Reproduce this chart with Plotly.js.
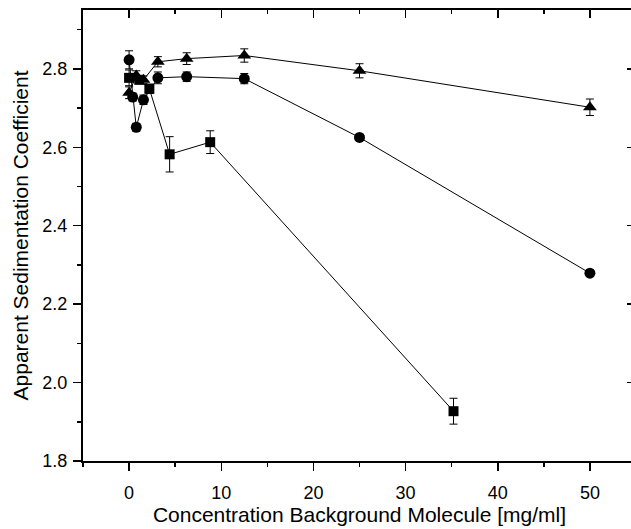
<!DOCTYPE html>
<html>
<head>
<meta charset="utf-8">
<script src="https://cdn.plot.ly/plotly-3.0.1.min.js"></script>
<style>
  html, body { margin: 0; padding: 0; overflow: hidden; background: #fff; }
  #chart { width: 640px; height: 529px; }
</style>
</head>
<body>
<div id="chart"></div>
<script>
// Concentration of background molecule [mg/ml]
const circleX = [0, 0.39, 0.78, 1.56, 3.125, 6.25, 12.5, 25, 50];
const circleY = [2.823, 2.728, 2.651, 2.721, 2.777, 2.780, 2.775, 2.625, 2.279];
const circleErr = [0.023, 0.010, 0.010, 0.012, 0.015, 0.012, 0.013, 0.008, 0.008];

const triX = [0, 0.78, 1.56, 3.125, 6.25, 12.5, 25, 50];
const triY = [2.739, 2.783, 2.772, 2.818, 2.826, 2.834, 2.795, 2.702];
const triErr = [0.015, 0.012, 0.010, 0.013, 0.015, 0.017, 0.018, 0.021];

const sqX = [0, 1.1, 2.2, 4.4, 8.8, 35.2];
const sqY = [2.777, 2.772, 2.749, 2.582, 2.613, 1.927];
const sqErr = [0.020, 0.010, 0.012, 0.045, 0.029, 0.033];

const FONT = 'Liberation Sans, Arial, sans-serif';

function series(x, y, err, symbol, size) {
  return {
    type: 'scatter', mode: 'lines+markers', x: x, y: y,
    line: { color: '#000', width: 1 },
    marker: { symbol: symbol, size: size, color: '#000' },
    error_y: { type: 'data', array: err, visible: true, color: '#000', thickness: 1, width: 4 },
    showlegend: false, hoverinfo: 'x+y'
  };
}

const traces = [
  series(sqX, sqY, sqErr, 'square', 10),
  series(circleX, circleY, circleErr, 'circle', 11),
  series(triX, triY, triErr, 'triangle-up', 12),
  // empty trace that anchors the top/right frame axes
  { type: 'scatter', x: [], y: [], xaxis: 'x2', yaxis: 'y2', showlegend: false, hoverinfo: 'skip' }
];

const xr = [-5, 55];
const yr = [1.8, 2.95];

const layout = {
  width: 640, height: 529,
  margin: { l: 83, r: 4, t: 10, b: 68 },
  paper_bgcolor: '#fff', plot_bgcolor: '#fff',
  font: { family: FONT, color: '#000', size: 18 },
  showlegend: false,
  xaxis: {
    range: xr, tick0: 0, dtick: 10, ticks: 'outside', ticklen: 8, tickwidth: 1.5, tickcolor: '#000',
    minor: { dtick: 5, ticks: 'outside', ticklen: 4, tickwidth: 1.5, tickcolor: '#000' },
    showline: true, linewidth: 2, linecolor: '#000', showgrid: false, zeroline: false,
    tickfont: { size: 18, family: FONT }, ticklabelstandoff: 6,
    title: { text: 'Concentration Background Molecule [mg/ml]', font: { size: 21, family: FONT }, standoff: 3 }
  },
  yaxis: {
    range: yr, tick0: 1.8, dtick: 0.2, tickformat: '.1f', ticks: 'outside', ticklen: 8, tickwidth: 1.5, tickcolor: '#000',
    minor: { dtick: 0.1, ticks: 'outside', ticklen: 4, tickwidth: 1.5, tickcolor: '#000' },
    showline: true, linewidth: 2, linecolor: '#000', showgrid: false, zeroline: false,
    tickfont: { size: 18, family: FONT }, ticklabelstandoff: 2,
    title: { text: 'Apparent Sedimentation Coefficient', font: { size: 21, family: FONT }, standoff: 8 }
  },
  xaxis2: {
    overlaying: 'x', side: 'top', anchor: 'y', range: xr, tick0: 0, dtick: 10,
    ticks: 'inside', ticklen: 8, tickwidth: 1.5, tickcolor: '#000',
    minor: { dtick: 5, ticks: 'inside', ticklen: 4, tickwidth: 1.5, tickcolor: '#000' },
    showline: true, linewidth: 2, linecolor: '#000', showgrid: false, zeroline: false, showticklabels: false
  },
  yaxis2: {
    overlaying: 'y', side: 'right', anchor: 'x', range: yr, tick0: 1.8, dtick: 0.2,
    ticks: 'inside', ticklen: 9, tickwidth: 1.5, tickcolor: '#000',
    showline: false, showgrid: false, zeroline: false, showticklabels: false
  }
};

Plotly.newPlot('chart', traces, layout, { displayModeBar: false, staticPlot: true });
</script>
</body>
</html>
